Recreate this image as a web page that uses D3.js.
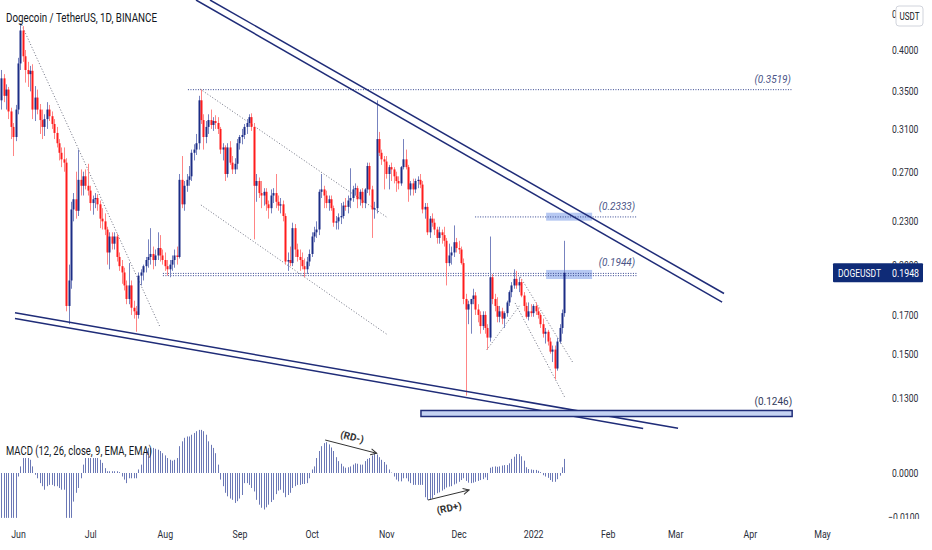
<!DOCTYPE html>
<html>
<head>
<meta charset="utf-8">
<script src="https://d3js.org/d3.v7.min.js"></script>
<style>
body { margin: 0; background: #fff; }
text { font-family: Roboto, "Liberation Sans", sans-serif; fill: #131722; }
</style>
</head>
<body>
<svg id="chart" width="932" height="550"></svg>
<script>
// first candle date, one candle per day
var firstDay = Date.UTC(2021, 4, 25);

// daily candles [open, high, low, close], 25 May 2021 .. 14 Jan 2022
var candles = [
[.340,.375,.330,.365],[.365,.370,.338,.345],[.345,.358,.330,.352],[.352,.355,.320,.328],[.328,.332,.300,.312],
[.312,.316,.284,.302],[.302,.335,.298,.330],[.330,.390,.325,.383],[.383,.436,.375,.426],[.426,.432,.385,.392],
[.392,.400,.360,.375],[.375,.385,.355,.370],[.370,.380,.350,.374],[.374,.382,.320,.330],[.330,.356,.318,.343],
[.343,.352,.325,.330],[.330,.336,.305,.319],[.319,.330,.300,.312],[.312,.325,.303,.320],[.320,.338,.310,.330],
[.330,.335,.318,.323],[.323,.328,.310,.315],[.315,.320,.300,.306],[.306,.312,.292,.296],[.296,.300,.280,.287],
[.287,.292,.274,.281],[.281,.292,.270,.278],[.278,.282,.172,.175],[.175,.200,.165,.190],[.190,.245,.185,.239],
[.239,.252,.230,.247],[.247,.270,.232,.238],[.238,.290,.234,.263],[.263,.272,.250,.258],[.258,.270,.250,.266],
[.266,.272,.255,.258],[.258,.277,.250,.254],[.254,.258,.238,.244],[.244,.250,.235,.247],[.247,.252,.240,.248],
[.248,.251,.238,.243],[.243,.246,.225,.232],[.232,.240,.224,.230],[.230,.236,.220,.224],[.224,.226,.200,.208],
[.208,.222,.197,.219],[.219,.222,.210,.214],[.214,.222,.210,.219],[.219,.221,.202,.205],[.205,.208,.196,.199],
[.199,.203,.188,.195],[.195,.198,.184,.187],[.187,.190,.176,.179],[.179,.201,.176,.187],[.187,.190,.170,.174],
[.174,.178,.168,.172],[.172,.175,.161,.170],[.170,.195,.168,.193],[.193,.197,.187,.195],[.195,.200,.190,.199],
[.199,.205,.195,.203],[.203,.217,.198,.205],[.205,.225,.200,.207],[.207,.212,.197,.203],[.203,.210,.199,.206],
[.206,.222,.203,.211],[.211,.220,.202,.206],[.206,.210,.200,.203],[.203,.208,.196,.199],[.199,.203,.193,.197],
[.197,.203,.192,.200],[.200,.206,.196,.203],[.203,.210,.198,.206],[.206,.212,.200,.205],[.205,.268,.204,.263],
[.263,.284,.240,.243],[.243,.262,.238,.258],[.258,.268,.253,.263],[.263,.275,.258,.266],[.266,.290,.262,.287],
[.287,.295,.280,.290],[.290,.305,.285,.296],[.296,.345,.290,.340],[.340,.352,.315,.319],[.319,.325,.290,.302],
[.302,.318,.296,.312],[.312,.325,.305,.319],[.319,.330,.310,.314],[.314,.322,.308,.318],[.318,.324,.310,.316],
[.316,.322,.305,.310],[.310,.312,.286,.290],[.290,.296,.280,.292],[.292,.294,.262,.268],[.268,.296,.265,.292],
[.292,.298,.276,.278],[.278,.284,.268,.272],[.272,.282,.268,.277],[.277,.300,.272,.296],[.296,.304,.290,.302],
[.302,.310,.295,.304],[.304,.315,.300,.312],[.312,.320,.305,.316],[.316,.325,.312,.322],[.322,.326,.308,.312],
[.312,.316,.217,.258],[.258,.268,.245,.262],[.262,.265,.248,.252],[.252,.262,.240,.250],[.250,.256,.242,.253],
[.253,.256,.238,.243],[.243,.246,.232,.240],[.240,.255,.236,.250],[.250,.256,.244,.252],[.252,.268,.240,.245],
[.245,.250,.238,.242],[.242,.248,.236,.243],[.243,.246,.230,.234],[.234,.236,.200,.202],[.202,.208,.196,.203],
[.203,.212,.199,.201],[.201,.229,.199,.225],[.225,.228,.205,.210],[.210,.214,.202,.205],[.205,.210,.196,.203],
[.203,.208,.197,.199],[.199,.204,.192,.197],[.197,.205,.194,.202],[.202,.210,.199,.207],[.207,.222,.205,.219],
[.219,.226,.215,.222],[.222,.230,.218,.224],[.224,.255,.220,.253],[.253,.268,.248,.255],[.255,.258,.240,.250],
[.250,.254,.240,.244],[.244,.250,.238,.247],[.247,.250,.238,.240],[.240,.242,.226,.229],[.229,.234,.224,.230],
[.230,.236,.224,.233],[.233,.244,.228,.234],[.234,.245,.232,.242],[.242,.248,.238,.241],[.241,.250,.236,.246],
[.246,.273,.240,.248],[.248,.258,.245,.255],[.255,.260,.250,.256],[.256,.258,.240,.247],[.247,.255,.242,.253],
[.253,.256,.240,.244],[.244,.256,.240,.255],[.255,.278,.252,.275],[.275,.278,.250,.255],[.255,.258,.218,.239],
[.239,.245,.232,.240],[.240,.340,.236,.300],[.300,.307,.284,.287],[.287,.290,.276,.281],[.281,.284,.255,.279],
[.279,.284,.264,.268],[.268,.276,.255,.274],[.274,.278,.262,.272],[.272,.274,.260,.266],[.266,.270,.253,.262],
[.262,.266,.255,.260],[.260,.275,.258,.274],[.274,.300,.272,.281],[.281,.290,.272,.274],[.274,.276,.245,.255],
[.255,.262,.250,.260],[.260,.264,.250,.255],[.255,.264,.252,.262],[.262,.266,.256,.263],[.263,.268,.256,.259],
[.259,.262,.236,.239],[.239,.244,.232,.241],[.241,.244,.220,.222],[.222,.234,.218,.232],[.232,.236,.226,.229],
[.229,.232,.220,.224],[.224,.226,.214,.218],[.218,.226,.214,.222],[.222,.224,.214,.220],[.220,.226,.212,.216],
[.216,.218,.187,.201],[.201,.214,.199,.206],[.206,.212,.200,.208],[.208,.227,.205,.215],[.215,.218,.208,.211],
[.211,.216,.207,.210],[.210,.212,.200,.201],[.201,.204,.176,.179],[.179,.182,.131,.173],[.173,.178,.165,.176],
[.176,.179,.160,.179],[.179,.185,.176,.181],[.181,.183,.170,.173],[.173,.176,.166,.170],[.170,.172,.160,.164],
[.164,.172,.162,.170],[.170,.172,.160,.163],[.163,.165,.152,.158],[.158,.219,.156,.192],[.192,.194,.176,.179],
[.179,.182,.172,.175],[.175,.180,.166,.169],[.169,.175,.166,.172],[.172,.174,.165,.168],[.168,.172,.163,.171],
[.171,.178,.169,.177],[.177,.184,.175,.183],[.183,.189,.180,.187],[.187,.197,.185,.191],[.191,.196,.185,.187],
[.187,.192,.183,.189],[.189,.191,.180,.181],[.181,.183,.172,.175],[.175,.177,.168,.169],[.169,.177,.167,.172],
[.172,.176,.169,.171],[.171,.176,.169,.175],[.175,.177,.170,.172],[.172,.174,.168,.170],[.170,.171,.163,.165],
[.165,.168,.158,.160],[.160,.163,.155,.161],[.161,.162,.154,.156],[.156,.158,.150,.151],[.151,.154,.146,.152],
[.152,.154,.138,.143],[.143,.158,.142,.156],[.156,.165,.155,.163],[.163,.173,.160,.171],[.171,.216,.169,.1948]
];

// MACD histogram, one value per candle
var macdHist = [
-.0102,-.0102,-.0102,-.0102,-.0102,-.0102,-.0102,-.0008,.0015,.0034,
.0034,.0034,.0030,.0015,-.0004,-.0012,-.0023,-.0030,-.0038,-.0030,
-.0027,-.0027,-.0030,-.0030,-.0034,-.0038,-.0038,-.0102,-.0102,-.0102,
-.0065,-.0045,-.0034,-.0012,.0019,.0034,.0034,.0034,.0034,.0034,
.0034,.0030,.0023,.0011,.0004,.0004,.0004,.0004,.0004,.0002,
-.0008,-.0015,-.0023,-.0012,-.0012,-.0012,-.0012,.0008,.0019,.0042,
.0053,.0057,.0057,.0057,.0055,.0053,.0050,.0045,.0040,.0034,
.0030,.0028,.0030,.0034,.0061,.0072,.0080,.0083,.0083,.0087,
.0091,.0095,.0098,.0098,.0095,.0087,.0072,.0064,.0057,.0045,
.0019,-.0015,-.0030,-.0045,-.0053,-.0058,-.0061,-.0068,-.0064,-.0058,
-.0050,-.0023,-.0023,-.0027,-.0034,-.0042,-.0061,-.0072,-.0079,-.0083,
-.0078,-.0072,-.0066,-.0061,-.0048,-.0040,-.0038,-.0045,-.0055,-.0050,
-.0045,-.0034,-.0030,-.0027,-.0027,-.0025,-.0025,-.0023,-.0012,.0008,
.0015,.0034,.0050,.0061,.0068,.0070,.0065,.0058,.0050,.0036,
.0027,.0021,.0015,.0012,.0013,.0015,.0019,.0022,.0021,.0019,
.0019,.0027,.0032,.0034,.0040,.0045,.0042,.0036,.0030,.0025,
.0019,.0008,.0001,-.0008,-.0015,-.0019,-.0019,-.0012,-.0012,-.0019,
-.0023,-.0027,-.0027,-.0027,-.0027,-.0027,-.0055,-.0061,-.0061,-.0058,
-.0050,-.0046,-.0044,-.0040,-.0037,-.0033,-.0031,-.0030,-.0026,-.0024,
-.0020,-.0016,-.0012,-.0018,-.0022,-.0023,-.0022,-.0020,-.0018,-.0016,
-.0014,-.0010,-.0016,.0012,.0014,.0015,.0014,.0015,.0017,.0018,
.0018,.0022,.0032,.0037,.0043,.0043,.0038,.0028,.0013,.0009,
.0008,.0007,.0007,.0005,.0002,-.0005,-.0008,-.0011,-.0016,-.0020,
-.0020,-.0014,-.0006,.0013,.0032
];

var priceTicks = [0.45, 0.40, 0.35, 0.31, 0.27, 0.23, 0.20, 0.17, 0.15, 0.13];
var macdTicks = [0, -0.01];
var monthTicks = [[2021,5],[2021,6],[2021,7],[2021,8],[2021,9],[2021,10],[2021,11],[2022,0],[2022,1],[2022,2],[2022,3],[2022,4]];
var monthLabels = ["Jun","Jul","Aug","Sep","Oct","Nov","Dec","2022","Feb","Mar","Apr","May"];

// drawings: [from candle index, price, to candle index, price]
var channelLines = [[80.95,.4701,299.5,.1772],[86.77,.4701,300.3,.1822],[5.75,.1712,281.2,.1179],[5.75,.1681,266.7,.1178]];
var dottedLines = [[8.54,.4336,66.0,.1635],[82.6,.3527,160.7,.2325],[83.0,.2425,160.7,.1593],
                   [201.7,.1518,215.6,.1756],[215.6,.1923,237.7,.1454],[213.5,.1767,234.3,.1300]];
var levelPrices = [0.3519, 0.2333, 0.1944, 0.1930];
var levelFrom = [77.6, 196.9, 67.2, 67.2];
var levelTo = [328.6, 264.2, 264.2, 264.2];
var levelLabels = [["(0.3519)",328.1,0.3519],["(0.2333)",263.4,0.2333],["(0.1944)",263.4,0.1944]];
var zones = [[226.4,245.5,.2365,.2305],[226.4,245.5,.1966,.1909]];
var supportBox = [174.4,328.6,.12486,.12246];
var rdArrows = [[134.6,.0075,156.0,.00448],[177.3,-.00614,194.4,-.00386]];
var rdLabels = [["(RD-)",145.8,.0082,14],["(RD+)",186.1,-.00795,-12]];

var svg = d3.select("#chart");

var x = d3.scaleUtc()
    .domain([Date.UTC(2021,5,1), Date.UTC(2022,4,1)])
    .range([18, 822]);
var y = d3.scaleLog().domain([0.13, 0.40]).range([398, 50]);
var m = d3.scaleLinear().domain([-0.01, 0]).range([517, 473]);

function xi(i) { return x(new Date(firstDay + i * 864e5)); }

var defs = svg.append("defs");
defs.append("clipPath").attr("id", "pricePane").append("rect").attr("x", 0).attr("y", 0).attr("width", 830).attr("height", 430);
defs.append("clipPath").attr("id", "macdPane").append("rect").attr("x", 0).attr("y", 428).attr("width", 932).attr("height", 91);
defs.append("marker").attr("id", "arr").attr("viewBox", "0 0 8 8").attr("refX", 7).attr("refY", 4)
    .attr("markerWidth", 8).attr("markerHeight", 8).attr("markerUnits", "userSpaceOnUse").attr("orient", "auto")
  .append("path").attr("d", "M1,1 L7,4 L1,7").attr("fill", "none").attr("stroke", "#333").attr("stroke-width", 1);

var price = svg.append("g").attr("clip-path", "url(#pricePane)");

// highlighted zones
price.selectAll(".zone").data(zones).enter().append("rect")
    .attr("x", function(d) { return xi(d[0]); })
    .attr("y", function(d) { return y(d[2]); })
    .attr("width", function(d) { return xi(d[1]) - xi(d[0]); })
    .attr("height", function(d) { return y(d[3]) - y(d[2]); })
    .attr("fill", "#a9bef0").attr("opacity", 0.85);

// horizontal levels
price.selectAll(".level").data(levelPrices).enter().append("line")
    .attr("x1", function(d, i) { return xi(levelFrom[i]); })
    .attr("x2", function(d, i) { return xi(levelTo[i]); })
    .attr("y1", function(d) { return y(d); })
    .attr("y2", function(d) { return y(d); })
    .attr("stroke", "#34458f").attr("stroke-width", 1).attr("stroke-dasharray", "1,1.5");

// dotted trend lines
price.selectAll(".dot").data(dottedLines).enter().append("line")
    .attr("x1", function(d) { return xi(d[0]); })
    .attr("y1", function(d) { return y(d[1]); })
    .attr("x2", function(d) { return xi(d[2]); })
    .attr("y2", function(d) { return y(d[3]); })
    .attr("stroke", "#6d7080").attr("stroke-width", 1).attr("stroke-dasharray", "1,2");

// candles
var c = price.selectAll(".candle").data(candles).enter().append("g");
c.append("line")
    .attr("x1", function(d, i) { return Math.round(xi(i)) + 0.5; })
    .attr("x2", function(d, i) { return Math.round(xi(i)) + 0.5; })
    .attr("y1", function(d) { return y(d[1]); })
    .attr("y2", function(d) { return y(d[2]); })
    .attr("stroke", function(d) { return d[3] >= d[0] ? "#7783bf" : "#ff8585"; })
    .attr("stroke-width", 1);
c.append("rect")
    .attr("x", function(d, i) { return Math.round(xi(i)) - 0.5; })
    .attr("width", 2)
    .attr("y", function(d) { return y(Math.max(d[0], d[3])); })
    .attr("height", function(d) { return Math.max(1, Math.abs(y(d[0]) - y(d[3]))); })
    .attr("fill", function(d) { return d[3] >= d[0] ? "#1c2d86" : "#ff1c1c"; });

// channel lines
price.selectAll(".chan").data(channelLines).enter().append("line")
    .attr("x1", function(d) { return xi(d[0]); })
    .attr("y1", function(d) { return y(d[1]); })
    .attr("x2", function(d) { return xi(d[2]); })
    .attr("y2", function(d) { return y(d[3]); })
    .attr("stroke", "#1f2c78").attr("stroke-width", 1.5);

// support box
price.append("rect")
    .attr("x", xi(supportBox[0]))
    .attr("y", y(supportBox[2]))
    .attr("width", xi(supportBox[1]) - xi(supportBox[0]))
    .attr("height", y(supportBox[3]) - y(supportBox[2]))
    .attr("fill", "#c5d3f3").attr("stroke", "#1f2c78").attr("stroke-width", 1.5);

// level labels
price.selectAll(".lvlText").data(levelLabels).enter().append("text")
    .attr("x", function(d) { return xi(d[1]); })
    .attr("y", function(d) { return y(d[2]) - 7; })
    .attr("text-anchor", "end")
    .attr("font-size", 10).attr("font-style", "italic")
    .style("fill", "#4b5587")
    .text(function(d) { return d[0]; });
price.append("text")
    .attr("x", xi(supportBox[1]))
    .attr("y", y(supportBox[2]) - 5)
    .attr("text-anchor", "end").attr("font-size", 10)
    .style("fill", "#333a5c")
    .text("(0.1246)");

// MACD histogram
var macd = svg.append("g").attr("clip-path", "url(#macdPane)");
macd.selectAll(".hist").data(macdHist).enter().append("line")
    .attr("x1", function(d, i) { return Math.round(xi(i)) + 0.5; })
    .attr("x2", function(d, i) { return Math.round(xi(i)) + 0.5; })
    .attr("y1", m(0))
    .attr("y2", function(d) { return m(d); })
    .attr("stroke", "#6b78b6").attr("stroke-width", 1);

macd.selectAll(".rd").data(rdArrows).enter().append("line")
    .attr("x1", function(d) { return xi(d[0]); })
    .attr("y1", function(d) { return m(d[1]); })
    .attr("x2", function(d) { return xi(d[2]); })
    .attr("y2", function(d) { return m(d[3]); })
    .attr("stroke", "#333").attr("stroke-width", 1)
    .attr("marker-end", "url(#arr)");

macd.selectAll(".rdText").data(rdLabels).enter().append("text")
    .attr("x", function(d) { return xi(d[1]); })
    .attr("y", function(d) { return m(d[2]); })
    .attr("text-anchor", "middle").attr("dy", "0.35em")
    .attr("font-size", 10).attr("font-weight", 700)
    .style("fill", "#333")
    .attr("transform", function(d) { return "rotate(" + d[3] + "," + xi(d[1]) + "," + m(d[2]) + ")"; })
    .text(function(d) { return d[0]; });

// titles
svg.append("text").attr("x", 6).attr("y", 22).attr("font-size", 13)
    .attr("textLength", 151).attr("lengthAdjust", "spacingAndGlyphs")
    .text("Dogecoin / TetherUS, 1D, BINANCE");
svg.append("text").attr("x", 6).attr("y", 455).attr("font-size", 12)
    .attr("textLength", 146).attr("lengthAdjust", "spacingAndGlyphs")
    .text("MACD (12, 26, close, 9, EMA, EMA)");

function squeeze(sel, f) {
  sel.each(function() {
    var w = this.getComputedTextLength();
    d3.select(this).attr("textLength", w * f).attr("lengthAdjust", "spacingAndGlyphs");
  });
}

// price axis
var yAxis = d3.axisRight(y).tickValues(priceTicks).tickFormat(d3.format(".4f")).tickSize(0).tickPadding(0);
var gy = svg.append("g").attr("transform", "translate(892,0)").call(yAxis);
gy.select(".domain").remove();
gy.selectAll("text").attr("font-size", 11).style("fill", "#2a2e39").attr("font-family", "Roboto");
squeeze(gy.selectAll("text"), 0.78);

// MACD axis
var mAxis = d3.axisRight(m).tickValues(macdTicks).tickFormat(d3.format(".4f")).tickSize(0).tickPadding(0);
var gm = svg.append("g").attr("clip-path", "url(#macdPane)")
  .append("g").attr("transform", "translate(892,0)").call(mAxis);
gm.select(".domain").remove();
gm.selectAll("text").attr("font-size", 11).style("fill", "#2a2e39").attr("font-family", "Roboto");
squeeze(gm.selectAll("text"), 0.78);
gm.selectAll(".tick").filter(function(d) { return d < 0; }).select("text").attr("x", -4);

// time axis
var xAxis = d3.axisBottom(x)
    .tickValues(monthTicks.map(function(d) { return new Date(Date.UTC(d[0], d[1], 1)); }))
    .tickFormat(function(d, i) { return monthLabels[i]; })
    .tickSize(0).tickPadding(9);
var gx = svg.append("g").attr("transform", "translate(0,521)").call(xAxis);
gx.select(".domain").remove();
gx.selectAll("text").attr("font-size", 11).style("fill", "#2a2e39").attr("font-family", "Roboto");
squeeze(gx.selectAll("text"), 0.8);

// last price label
var lastClose = candles[candles.length - 1][3];
var lp = svg.append("g").attr("transform", "translate(833," + (y(lastClose) - 9.5) + ")");
lp.append("rect").attr("width", 90).attr("height", 19).attr("fill", "#0f2b77").attr("rx", 1);
lp.append("text").attr("x", 5).attr("y", 13.5).attr("font-size", 11).style("fill", "#fff")
    .attr("textLength", 43).attr("lengthAdjust", "spacingAndGlyphs").text("DOGEUSDT");
lp.append("text").attr("x", 59).attr("y", 13.5).attr("font-size", 11).style("fill", "#fff")
    .attr("textLength", 27).attr("lengthAdjust", "spacingAndGlyphs").text(lastClose.toFixed(4));

// currency box
var cur = svg.append("g").attr("transform", "translate(896,6)");
cur.append("rect").attr("width", 27).attr("height", 20).attr("rx", 3)
    .attr("fill", "#fff").attr("stroke", "#d1d4dc");
cur.append("text").attr("x", 13.5).attr("y", 14).attr("text-anchor", "middle").attr("font-size", 10)
    .attr("textLength", 20).attr("lengthAdjust", "spacingAndGlyphs").text("USDT");
</script>
</body>
</html>
